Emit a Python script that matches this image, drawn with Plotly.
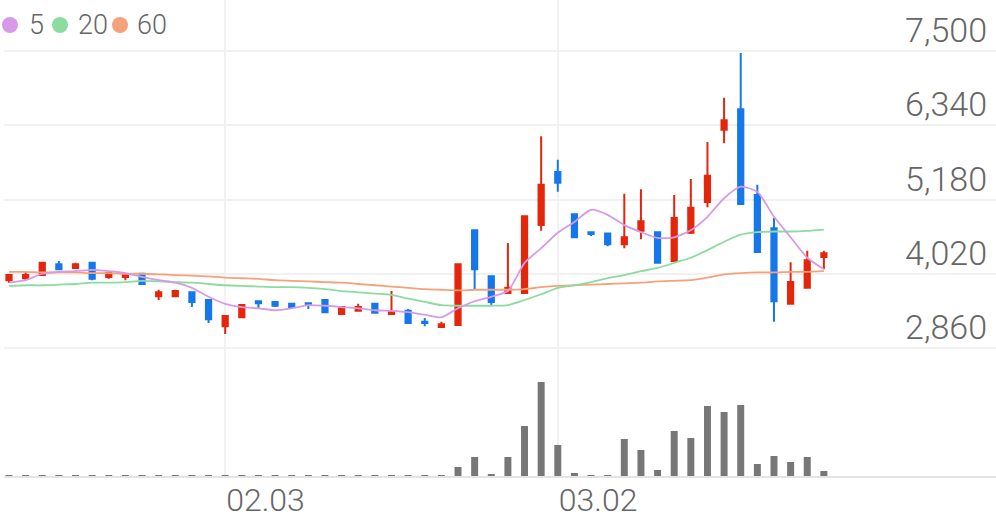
import plotly.graph_objects as go

# ---- data ----
idx = list(range(50))
tick_pos = [13, 33]
tick_text = ["02.03", "03.02"]

opens  = [3920,3950,4000,4170,4110,4190,3970,3970,4020,3670,3670,3730,3610,3200,3340,
          3590,3580,3550,3560,3610,3390,3440,3550,3390,3440,3270,3190,3220,4700,3980,
          3720,3720,4780,5610,4950,4670,4650,4480,4690,4670,4220,4660,5140,6270,6590,
          5250,4730,3550,3800,4280]
highs  = [4010,4050,4200,4220,4190,4200,4030,4030,4020,3770,3770,3730,3610,3360,3530,
          3590,3580,3560,3560,3610,3500,3550,3550,3750,3470,3330,3270,4170,4700,3980,
          4500,4920,6170,5800,4950,4670,4650,5270,5340,4670,5250,5500,6080,6770,7470,
          5410,4890,4200,4380,4380]
lows   = [3880,3920,3990,4090,4110,3920,3940,3920,3860,3610,3670,3500,3250,3080,3340,
          3470,3500,3470,3470,3420,3390,3440,3400,3380,3250,3200,3190,3220,3770,3530,
          3720,3720,4690,5300,4590,4610,4450,4420,4560,4190,4220,4640,5060,6060,5100,
          4350,3270,3550,3800,4090]
closes = [4000,4000,4190,4090,4170,3940,4030,4000,3860,3730,3750,3580,3310,3360,3530,
          3560,3520,3500,3530,3420,3500,3500,3410,3420,3250,3250,3230,4170,4090,3580,
          3800,4920,5410,5440,4590,4640,4480,4590,4840,4190,4890,5050,5550,6420,5110,
          4360,3590,3890,4230,4340]

ma5  = [3880,3920,4020,4050,4060,4080,4060,4030,3970,3920,3880,3800,3660,3550,3500,
        3480,3450,3480,3530,3520,3500,3480,3450,3440,3420,3380,3340,3480,3590,3660,
        3750,4190,4420,4660,4830,5020,4940,4780,4670,4580,4590,4700,4910,5200,5380,
        5300,4910,4590,4270,4090]
ma20 = [3830,3840,3840,3850,3860,3880,3880,3890,3910,3900,3890,3880,3860,3840,3830,
        3820,3810,3810,3800,3780,3750,3730,3710,3690,3630,3580,3530,3520,3520,3520,
        3530,3610,3700,3800,3840,3890,3950,4000,4060,4110,4190,4270,4390,4520,4630,
        4670,4680,4680,4690,4710]
ma60 = [4050,4050,4040,4040,4040,4030,4030,4020,4020,4010,4000,3990,3980,3960,3950,
        3940,3920,3910,3900,3890,3880,3860,3840,3820,3800,3780,3770,3760,3770,3770,
        3770,3780,3810,3830,3840,3850,3860,3870,3880,3900,3910,3920,3960,4010,4030,
        4040,4040,4050,4050,4060]

volume = [2000,1000,3000,1000,1000,2000,1000,1000,2000,1000,2000,1000,3000,2000,1000,
          1000,1000,1000,1000,1000,1000,1000,1000,8000,2000,1000,2000,90000,190000,20000,
          190000,500000,940000,310000,30000,10000,10000,370000,260000,60000,450000,380000,
          700000,640000,710000,120000,200000,140000,190000,50000]

price_ticks = [2860, 4020, 5180, 6340, 7500]
price_tick_text = ["2,860", "4,020", "5,180", "6,340", "7,500"]

legend_names = ["5", "20", "60"]
ma_colors = ["#d79ae8", "#8cdca0", "#f5a27a"]
UP, DOWN = "#e3260c", "#1677ea"

W, H = 996, 519

fig = go.Figure()
fig.add_trace(go.Candlestick(
    x=idx, open=opens, high=highs, low=lows, close=closes,
    increasing=dict(line=dict(color=UP, width=2), fillcolor=UP),
    decreasing=dict(line=dict(color=DOWN, width=2), fillcolor=DOWN),
    whiskerwidth=0, xaxis="x", yaxis="y", showlegend=False, hoverinfo="skip"))
for vals, col in zip([ma60, ma20, ma5], ma_colors[::-1]):
    fig.add_trace(go.Scatter(x=idx, y=vals, mode="lines",
                             line=dict(color=col, width=1.8, shape="spline", smoothing=0.6),
                             xaxis="x", yaxis="y", showlegend=False, hoverinfo="skip"))
fig.add_trace(go.Bar(x=idx, y=volume, width=0.42, marker=dict(color="#777777", line=dict(width=0)),
                     xaxis="x", yaxis="y2", showlegend=False, hoverinfo="skip"))

def py(px):
    return 1 - px / H

grid = "#f1f1f1"
fig.update_layout(
    width=W, height=H,
    margin=dict(l=0, r=0, t=0, b=0, autoexpand=False),
    paper_bgcolor="white", plot_bgcolor="white",
    boxgap=0.55,
    font=dict(family="Roboto", color="#666666"),
    xaxis=dict(domain=[4 / W, 1], range=[-0.3, 59.35], anchor="y2", automargin=False,
               tickvals=tick_pos, ticktext=tick_text, ticks="",
               ticklabelposition="outside right", ticklabelstandoff=-5,
               tickfont=dict(size=32, family="Roboto", weight=300, color="#666666"),
               showgrid=True, gridcolor=grid, gridwidth=2,
               showline=True, linecolor="#e4e4e4", linewidth=2,
               zeroline=False, rangeslider=dict(visible=False), fixedrange=True),
    yaxis=dict(domain=[py(352), 1], range=[2797.5, 8296.8], side="right", automargin=False,
               tickvals=price_ticks, ticktext=price_tick_text, ticks="",
               ticklabelposition="inside top", ticklabelstandoff=6, ticklabelshift=3,
               tickfont=dict(size=34, family="Roboto", weight=300, color="#666666"),
               showgrid=True, gridcolor=grid, gridwidth=2, zeroline=False, showline=False),
    yaxis2=dict(domain=[py(476), py(352)], range=[0, 1240000], showgrid=False, automargin=False,
                showticklabels=False, zeroline=False, showline=False),
)

# legend (manual)
cx = [10, 60, 120]
tx = [27, 76, 135]
for c, x0, t, col in zip(cx, tx, legend_names, ma_colors):
    fig.add_shape(type="circle", xref="paper", yref="paper",
                  x0=(c - 8) / W, x1=(c + 8) / W, y0=py(33), y1=py(17),
                  fillcolor=col, line=dict(width=0))
    fig.add_annotation(xref="paper", yref="paper", x=x0 / W, y=py(25), text=t,
                       showarrow=False, xanchor="left", yanchor="middle",
                       font=dict(size=27, family="Roboto", weight=300, color="#666666"))

fig.write_html("out.html", config={"displayModeBar": False},
               post_script="document.body.style.margin='0';document.body.style.overflow='hidden';")
